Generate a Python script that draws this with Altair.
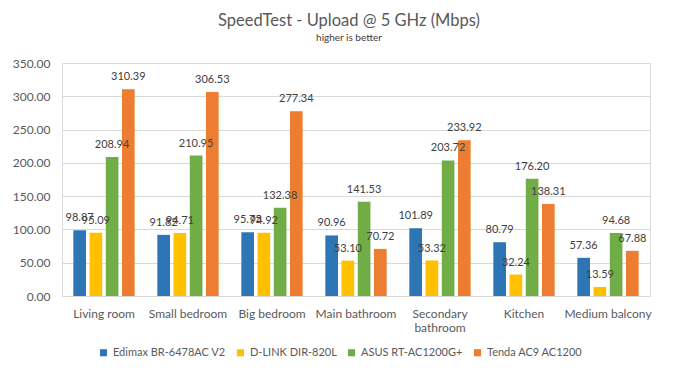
import altair as alt
import pandas as pd

locations = ["Living room", "Small bedroom", "Big bedroom", "Main bathroom",
             "Secondary bathroom", "Kitchen", "Medium balcony"]
routers = ["Edimax BR-6478AC V2", "D-LINK DIR-820L", "ASUS RT-AC1200G+", "Tenda AC9 AC1200"]
edimax = [98.87, 91.82, 95.75, 90.96, 101.89, 80.79, 57.36]
dlink = [95.09, 94.71, 94.92, 53.10, 53.32, 32.24, 13.59]
asus = [208.94, 210.95, 132.38, 141.53, 203.72, 176.20, 94.68]
tenda = [310.39, 306.53, 277.34, 70.72, 233.92, 138.31, 67.88]
colors = ["#2e75b6", "#ffc000", "#70ad47", "#ed7d31"]
y_ticks = [0, 50, 100, 150, 200, 250, 300, 350]

rows = []
for r, vals in zip(routers, [edimax, dlink, asus, tenda]):
    for loc, v in zip(locations, vals):
        rows.append({"Location": loc, "Router": r, "Speed": v})
df = pd.DataFrame(rows)

FONT = "Lato"

base = alt.Chart(df).encode(
    x=alt.X("Location:N", sort=locations, title=None,
            scale=alt.Scale(paddingInner=0.27, paddingOuter=0.135),
            axis=alt.Axis(labelAngle=0, labelFontSize=12, labelColor="#595959",
                          labelFont=FONT, labelPadding=12, ticks=False,
                          domainColor="#d9d9d9", labelLimit=200,
                          labelExpr="datum.label == 'Secondary bathroom' ? ['Secondary', 'bathroom'] : datum.label")),
    xOffset=alt.XOffset("Router:N", sort=routers, scale=alt.Scale(paddingInner=0.22)),
    y=alt.Y("Speed:Q", title=None,
            scale=alt.Scale(domain=[0, 350], nice=False),
            axis=alt.Axis(values=y_ticks, format=".2f", labelFontSize=12,
                          labelColor="#595959", labelFont=FONT, labelPadding=12,
                          ticks=False, domain=False, gridColor="#d9d9d9",
                          labelOverlap=False, labelFlush=False)),
)

bars = base.mark_bar().encode(
    color=alt.Color("Router:N", sort=routers,
                    scale=alt.Scale(domain=routers, range=colors),
                    legend=alt.Legend(title=None, orient="none", direction="horizontal",
                                      legendX=36, legendY=284,
                                      symbolType="square", symbolSize=50,
                                      labelFontSize=11, labelColor="#595959",
                                      labelFont=FONT, columnPadding=9,
                                      symbolStrokeWidth=0, labelLimit=200)),
)

labels = base.mark_text(baseline="bottom", dy=-7, fontSize=11, color="#404040", font=FONT).encode(
    text=alt.Text("Speed:Q", format=".2f"),
)

chart = (bars + labels).properties(
    width=588, height=233,
    title=alt.TitleParams("SpeedTest - Upload @ 5 GHz (Mbps)",
                          subtitle="higher is better",
                          fontSize=16.5, font=FONT, fontWeight="normal", color="#595959",
                          subtitleFontSize=10, subtitleFont=FONT, subtitleColor="#404040",
                          anchor="middle", offset=14, dx=-7, subtitlePadding=4),
    autosize=alt.AutoSizeParams(type="none"),
    padding={"left": 62, "top": 63, "right": 48, "bottom": 81},
).configure_view(stroke=None).configure(background="white")

chart.save("out.html", embed_options={"renderer": "svg", "actions": False})
